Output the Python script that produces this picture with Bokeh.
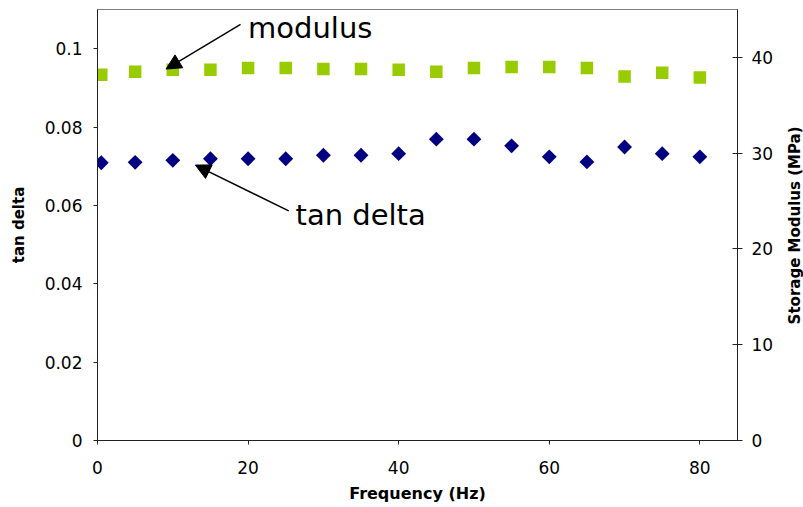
import math
from bokeh.plotting import figure
from bokeh.layouts import row
from bokeh.models import Range1d, LinearAxis, Arrow, NormalHead, Label, FixedTicker
from bokeh.embed import file_html
from bokeh.resources import INLINE

# ---- data ----
freq = [0.5, 5, 10, 15, 20, 25, 30, 35, 40, 45, 50, 55, 60, 65, 70, 75, 80]
tan_delta = [0.0709, 0.0710, 0.0715, 0.0719, 0.0719, 0.0719, 0.0728, 0.0728, 0.0732,
             0.0769, 0.0769, 0.0752, 0.0724, 0.0711, 0.0749, 0.0732, 0.0724]
modulus = [38.2, 38.5, 38.7, 38.7, 38.9, 38.9, 38.8, 38.8, 38.7,
           38.5, 38.9, 39.0, 39.0, 38.9, 38.0, 38.4, 37.9]

x_ticks = [0, 20, 40, 60, 80]
left_ticks = [0, 0.02, 0.04, 0.06, 0.08, 0.1]
left_labels = ["0", "0.02", "0.04", "0.06", "0.08", "0.1"]
right_ticks = [0, 10, 20, 30, 40]

FONT = "DejaVu Sans"

p = figure(width=783, height=507, output_backend="svg", toolbar_location=None,
           x_range=Range1d(0, 85), y_range=Range1d(0, 0.11),
           min_border_left=97, min_border_right=46, min_border_top=9, min_border_bottom=67)
p.extra_y_ranges = {"mod": Range1d(0, 45)}
p.grid.visible = False
p.outline_line_color = "#808080"
p.background_fill_color = "white"
p.border_fill_color = "white"

# markers
p.scatter(freq, modulus, y_range_name="mod", marker="square", size=12.5,
          fill_color="#99CC00", line_color=None)
p.scatter(freq, tan_delta, marker="square", angle=math.pi / 4, size=10.5,
          fill_color="#000080", line_color=None)

# axes
def style_axis(ax):
    ax.axis_line_color = "#222222"
    ax.major_tick_line_color = "#222222"
    ax.minor_tick_line_color = None
    ax.major_label_text_font = FONT
    ax.major_label_text_font_size = "17px"
    ax.major_label_text_color = "black"
    ax.axis_label_text_font = FONT
    ax.axis_label_text_font_style = "bold"
    ax.axis_label_text_color = "black"

xa = p.xaxis[0]
style_axis(xa)
xa.ticker = FixedTicker(ticks=x_ticks)
xa.major_tick_in = 0
xa.major_tick_out = 4
xa.major_label_standoff = 16
xa.axis_label = "Frequency (Hz)"
xa.axis_label_text_font_size = "16px"
xa.axis_label_standoff = 7

ya = p.yaxis[0]
style_axis(ya)
ya.ticker = FixedTicker(ticks=left_ticks)
ya.major_label_overrides = dict(zip(left_ticks, left_labels))
ya.major_tick_in = 0
ya.major_tick_out = 4
ya.major_label_standoff = 11
ya.axis_label = "tan delta"
ya.axis_label_text_font_size = "15px"
ya.axis_label_standoff = 14

ra = LinearAxis(y_range_name="mod")
style_axis(ra)
ra.ticker = FixedTicker(ticks=right_ticks)
ra.major_tick_in = 5
ra.major_tick_out = 5
ra.major_label_standoff = 9
p.add_layout(ra, "right")

# annotations
p.add_layout(Label(x=20.0, y=0.1052, text="modulus", text_font=FONT,
                   text_font_size="29px", text_color="black",
                   text_baseline="middle", text_align="left"))
p.add_layout(Label(x=26.3, y=0.0576, text="tan delta", text_font=FONT,
                   text_font_size="29px", text_color="black",
                   text_baseline="middle", text_align="left"))

head1 = NormalHead(size=15, fill_color="black", line_color="black")
p.add_layout(Arrow(end=head1, x_start=19.0, y_start=0.1062, x_end=9.1, y_end=0.0948,
                   line_color="black", line_width=1.5))
head2 = NormalHead(size=15, fill_color="black", line_color="black")
p.add_layout(Arrow(end=head2, x_start=25.4, y_start=0.0586, x_end=13.0, y_end=0.0703,
                   line_color="black", line_width=1.5))

# narrow strip on the right holding the right-axis title (reads bottom to top)
p2 = figure(width=20, height=507, output_backend="svg", toolbar_location=None,
            x_range=Range1d(0, 1), y_range=Range1d(0, 1), min_border=0)
p2.axis.visible = False
p2.grid.visible = False
p2.outline_line_color = None
p2.background_fill_color = "white"
p2.border_fill_color = "white"
p2.add_layout(Label(x=0.55, y=0.499, text="Storage Modulus (MPa)", angle=math.pi / 2,
                    text_align="center", text_baseline="middle",
                    text_font=FONT, text_font_size="15px", text_font_style="bold",
                    text_color="black"))

layout = row(p, p2, spacing=0)
open("out.html", "w").write(file_html(layout, INLINE))
